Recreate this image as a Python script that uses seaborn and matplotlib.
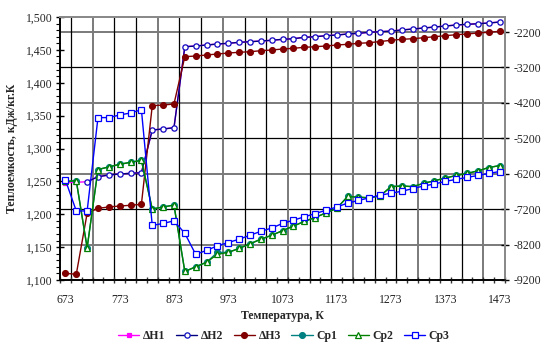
import numpy as np
import pandas as pd
import matplotlib
matplotlib.use("Agg")
import matplotlib.pyplot as plt
from matplotlib.ticker import FuncFormatter, MultipleLocator, FixedLocator
import seaborn as sns

# Temperature grid, K
temperature = list(range(673, 1474, 20))

# Enthalpy series (right axis)
dH1 = [-6453, -6442, -6425, -6284, -6236, -6208, -6188, -6171, -4965, -4937, -4901,
       -2614, -2594, -2566, -2538, -2518, -2490, -2473, -2453, -2433, -2405,
       -2388, -2349, -2332, -2303, -2284, -2255, -2236, -2207, -2191, -2171,
       -2142, -2114, -2086, -2058, -2030, -2001, -1982, -1965, -1945, -1917]
dH2 = [np.nan, np.nan, -6425, -6284, -6236, -6208, -6188, -6171, -4965, -4937, -4901,
       -2614, -2594, -2566, -2538, -2518, -2490, -2473, -2453, -2433, -2405,
       -2388, -2349, -2332, -2303, -2284, -2255, -2236, -2207, -2191, -2171,
       -2142, -2114, -2086, -2058, -2030, -2001, -1982, -1965, -1945, -1917]
dH3 = [-9011, -9039, -7317, -7176, -7139, -7111, -7091, -7063, -4279, -4260, -4232,
       -2896, -2876, -2848, -2820, -2792, -2772, -2755, -2727, -2707, -2679,
       -2659, -2631, -2614, -2594, -2566, -2546, -2518, -2501, -2467, -2433,
       -2405, -2388, -2360, -2332, -2303, -2275, -2255, -2227, -2207, -2179]

# Heat capacity series (left axis), kJ/(kg K)
cp1 = [1.250, 1.251, 1.149, 1.268, 1.272, 1.276, 1.279, 1.282, 1.208, 1.211, 1.214,
       1.113, 1.120, 1.127, 1.142, 1.142, 1.148, 1.155, 1.162, 1.168, 1.175,
       1.182, 1.189, 1.195, 1.202, 1.209, 1.227, 1.226, 1.225, 1.228, 1.242,
       1.243, 1.242, 1.247, 1.251, 1.255, 1.259, 1.262, 1.266, 1.271, 1.274]
cp2 = [1.250, 1.251, 1.149, 1.268, 1.272, 1.276, 1.279, 1.282, 1.208, 1.211, 1.214,
       1.113, 1.120, 1.127, 1.139, 1.142, 1.148, 1.155, 1.162, 1.168, 1.175,
       1.182, 1.189, 1.195, 1.202, 1.209, 1.227, 1.226, 1.225, 1.228, 1.242,
       1.243, 1.242, 1.247, 1.251, 1.255, 1.259, 1.262, 1.266, 1.271, 1.274]
cp3 = [1.252, 1.205, 1.205, 1.347, 1.347, 1.351, 1.354, 1.359, 1.183, 1.186, 1.190,
       1.171, 1.139, 1.145, 1.152, 1.157, 1.162, 1.168, 1.174, 1.179, 1.186,
       1.191, 1.196, 1.201, 1.206, 1.211, 1.217, 1.221, 1.225, 1.229, 1.232,
       1.235, 1.239, 1.243, 1.246, 1.250, 1.253, 1.256, 1.259, 1.262, 1.265]

x_ticks = [673, 773, 873, 973, 1073, 1173, 1273, 1373, 1473]
left_ticks = [1.100, 1.150, 1.200, 1.250, 1.300, 1.350, 1.400, 1.450, 1.500]
right_ticks = [-9200, -8200, -7200, -6200, -5200, -4200, -3200, -2200]

sns.set_theme(style="white")
plt.rcParams["font.family"] = ["Liberation Serif", "DejaVu Serif"]
plt.rcParams["axes.unicode_minus"] = False

fig = plt.figure(figsize=(5.46, 3.45), dpi=100)
ax = fig.add_axes([60 / 546, 1 - 280 / 345, 445 / 546, 263 / 345])
ax2 = ax.twinx()
# enthalpy axis with the grid sits behind the heat capacity axis
ax.set_zorder(ax2.get_zorder() + 1)
ax.patch.set_visible(False)
ax2.patch.set_visible(True)
ax2.patch.set_facecolor("white")

ax.set_xlim(663, 1483)
ax.set_ylim(1.1, 1.5)
ax2.set_ylim(-9200, -1775)

# grid
for i, v in enumerate(right_ticks):
    ax2.axhline(v, color="#000000" if i % 2 == 0 else "#7a7a7a",
                lw=0.9 if i % 2 == 0 else 1.4, zorder=0)
for j, xv in enumerate(range(683, 1480, 40)):
    ax2.axvline(xv, color="#000000" if j % 3 != 1 else "#7a7a7a",
                lw=0.9 if j % 3 != 1 else 1.4, zorder=0)

df = pd.DataFrame({"T": temperature, "dH1": dH1, "dH2": dH2, "dH3": dH3,
                   "cp1": cp1, "cp2": cp2, "cp3": cp3})

common = dict(estimator=None, lw=1.0, markeredgewidth=0.9)
sns.lineplot(data=df, x="T", y="dH1", ax=ax2, color="#ff00ff", marker="s",
             markersize=3.5, markerfacecolor="#ff00ff", markeredgecolor="#ff00ff",
             label="ΔH1", legend=False, **common)
sns.lineplot(data=df, x="T", y="dH2", ax=ax2, color="#000080", marker="o",
             markersize=3.8, markerfacecolor="white", markeredgecolor="#1010c0",
             label="ΔH2", legend=False, **common)
sns.lineplot(data=df, x="T", y="dH3", ax=ax2, color="#800000", marker="o",
             markersize=4.2, markerfacecolor="#800000", markeredgecolor="#800000",
             label="ΔH3", legend=False, **common)
sns.lineplot(data=df, x="T", y="cp1", ax=ax, color="#008080", marker="o",
             markersize=4.2, markerfacecolor="#008080", markeredgecolor="#008080",
             label="Cp1", legend=False, **common)
sns.lineplot(data=df, x="T", y="cp2", ax=ax, color="#008000", marker="^",
             markersize=4.5, markerfacecolor="white", markeredgecolor="#008000",
             label="Cp2", legend=False, **common)
sns.lineplot(data=df, x="T", y="cp3", ax=ax, color="#0000ff", marker="s",
             markersize=4.5, markerfacecolor="white", markeredgecolor="#0000ff",
             label="Cp3", legend=False, **common)

# axes and ticks
ax.set_xticks(x_ticks)
ax.xaxis.set_minor_locator(FixedLocator(list(range(663, 1484, 20))))
ax.tick_params(axis="x", which="major", length=0, pad=10, labelsize=8.5, colors="#222222")
ax.tick_params(axis="x", which="minor", length=5, width=1, direction="inout", bottom=True, color="#333333")
ax.set_yticks(left_ticks)
ax.yaxis.set_minor_locator(MultipleLocator(0.01))
ax.yaxis.set_major_formatter(FuncFormatter(lambda v, p: f"{v:.3f}".replace(".", ",")))
ax.tick_params(axis="y", which="major", length=6, width=1, direction="inout", left=True,
               labelsize=8.5, pad=2, color="#000000")
ax.tick_params(axis="y", which="minor", length=3, width=0.8, direction="out", left=True, color="#000000")

ax2.set_yticks(right_ticks)
ax2.yaxis.set_major_formatter(FuncFormatter(lambda v, p: f"{int(round(v))}"))
ax2.tick_params(axis="y", which="major", length=6, width=1, direction="inout", right=True,
                labelsize=8.5, pad=3, color="#000000")

for a in (ax, ax2):
    for side, sp in a.spines.items():
        sp.set_visible(True)
        sp.set_color("#000000" if side in ("left", "bottom") else "#8a8a8a")
        sp.set_linewidth(1.2 if side in ("left", "bottom") else 1.4)

ax.set_xlabel("Температура, К", fontsize=8.5, fontweight="bold", labelpad=3)
ax.set_ylabel("Теплоемкость, кДж/кг.К", fontsize=8.5, fontweight="bold", labelpad=6)
ax2.set_ylabel("")
ax.grid(False)

h1, l1 = ax2.get_legend_handles_labels()
h2, l2 = ax.get_legend_handles_labels()
fig.legend(h1 + h2, l1 + l2, loc="lower center", bbox_to_anchor=(0.52, -0.012), ncol=6,
           frameon=False, prop={"weight": "bold", "size": 8.5}, handlelength=1.8,
           handletextpad=0.3, columnspacing=0.9, borderaxespad=0.2)

fig.savefig("out.png", dpi=100)
